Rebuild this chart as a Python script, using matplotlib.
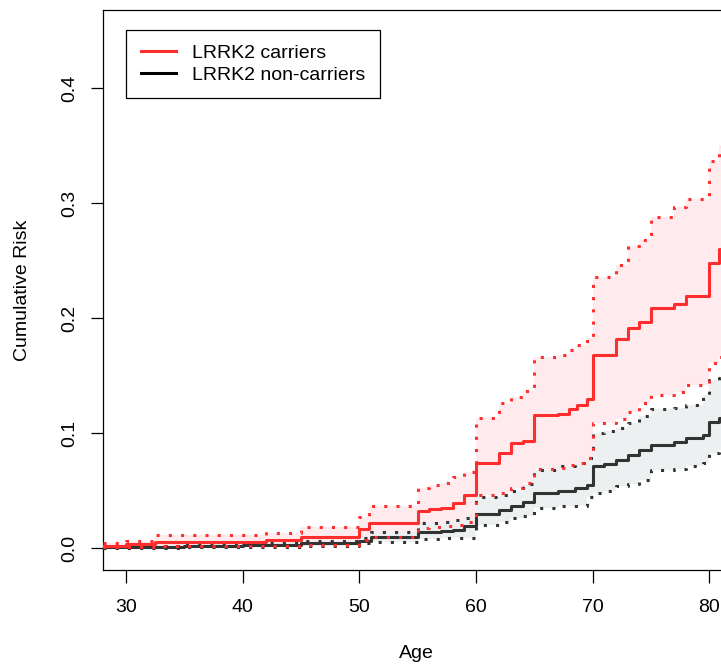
"""Cumulative risk of LRRK2 carriers vs non-carriers (step curves with CI bands)."""

import numpy as np
import matplotlib
matplotlib.use("Agg")
import matplotlib.pyplot as plt

plt.rcParams["font.family"] = ["Liberation Sans", "DejaVu Sans"]

# Carriers: event ages with estimate and confidence limits
carrier_age = [28, 30, 32.5, 42, 45, 50, 50.8, 55, 56, 57, 58, 59, 60, 62, 63, 64,
               65, 67, 68, 68.7, 69.5, 70, 72, 73, 74, 75, 77, 78, 80, 80.8, 81.2, 81.7]
carrier_est = [0.0017, 0.0035, 0.005, 0.007, 0.0096, 0.0165, 0.022, 0.032, 0.034, 0.035,
               0.039, 0.046, 0.074, 0.083, 0.091, 0.093, 0.116, 0.117, 0.121, 0.124,
               0.130, 0.168, 0.182, 0.191, 0.197, 0.209, 0.212, 0.219, 0.248, 0.260,
               0.262, 0.262]
carrier_hi = [0.004, 0.006, 0.011, 0.013, 0.018, 0.027, 0.037, 0.052, 0.055, 0.057,
              0.062, 0.066, 0.113, 0.126, 0.131, 0.137, 0.166, 0.168, 0.172, 0.177,
              0.183, 0.236, 0.246, 0.263, 0.268, 0.288, 0.297, 0.304, 0.337, 0.350,
              0.360, 0.360]
carrier_lo = [0.001, 0.001, 0.0015, 0.002, 0.003, 0.007, 0.010, 0.017, 0.018, 0.019,
              0.020, 0.023, 0.046, 0.048, 0.052, 0.057, 0.069, 0.070, 0.072, 0.074,
              0.078, 0.109, 0.112, 0.118, 0.126, 0.133, 0.136, 0.142, 0.161, 0.166,
              0.168, 0.168]

# Non-carriers
noncarrier_age = [28, 35, 40, 45, 50, 51, 55, 57, 58, 59, 60, 62, 63, 64, 65, 67, 68.5,
                  69.5, 70, 71, 72, 73, 74, 75, 77, 78, 79.5, 80, 80.8, 81.7]
noncarrier_est = [0.0008, 0.002, 0.003, 0.004, 0.006, 0.0096, 0.014, 0.015, 0.016, 0.019,
                  0.030, 0.033, 0.037, 0.040, 0.048, 0.050, 0.052, 0.055, 0.071, 0.073,
                  0.077, 0.081, 0.085, 0.090, 0.092, 0.096, 0.098, 0.110, 0.113, 0.113]
noncarrier_hi = [0.002, 0.004, 0.005, 0.006, 0.009, 0.014, 0.022, 0.023, 0.024, 0.026,
                 0.044, 0.046, 0.050, 0.056, 0.068, 0.071, 0.074, 0.078, 0.100, 0.102,
                 0.104, 0.109, 0.115, 0.121, 0.122, 0.124, 0.133, 0.146, 0.148, 0.148]
noncarrier_lo = [0.0, 0.0005, 0.001, 0.002, 0.004, 0.005, 0.008, 0.0085, 0.009, 0.009,
                 0.020, 0.023, 0.026, 0.028, 0.035, 0.037, 0.037, 0.044, 0.048, 0.050,
                 0.054, 0.056, 0.059, 0.068, 0.069, 0.071, 0.074, 0.083, 0.085, 0.085]

y_ticks = [0.0, 0.1, 0.2, 0.3, 0.4]
x_ticks = [30, 40, 50, 60, 70, 80]

RED = "#FF2E2E"
DARK = "#333333"
DOT = (0, (1, 3))
LW = 2.2

fig = plt.figure(figsize=(7.21, 6.64), dpi=100)
ax = fig.add_axes([103 / 721, 94 / 664, 626 / 721, 560 / 664])

# CI bands: carriers first, non-carriers painted over them
ax.fill_between(carrier_age, carrier_lo, carrier_hi, step="post",
                facecolor="#FFEAEE", edgecolor="none", zorder=1)
ax.fill_between(noncarrier_age, noncarrier_lo, noncarrier_hi, step="post",
                facecolor="#EDF0F0", edgecolor="none", zorder=2)

ax.step(noncarrier_age, noncarrier_lo, where="post", color=DARK, lw=LW, ls=DOT, zorder=3)
ax.step(noncarrier_age, noncarrier_hi, where="post", color=DARK, lw=LW, ls=DOT, zorder=3)
ax.step(noncarrier_age, noncarrier_est, where="post", color=DARK, lw=LW, zorder=4)

ax.step(carrier_age, carrier_lo, where="post", color=RED, lw=LW, ls=DOT, zorder=5)
ax.step(carrier_age, carrier_hi, where="post", color=RED, lw=LW, ls=DOT, zorder=5)
ax.step(carrier_age, carrier_est, where="post", color=RED, lw=LW, zorder=6)

ax.set_xlim(28.03, 81.7)
ax.set_ylim(-0.0191, 0.468)
ax.set_xticks(x_ticks)
ax.set_yticks(y_ticks)
ax.set_yticklabels([f"{v:.1f}" for v in y_ticks], rotation=90, va="center")

for side in ax.spines.values():
    side.set_linewidth(0.9)
    side.set_color("black")
ax.tick_params(direction="out", length=9, width=0.9, labelsize=14, colors="black")
ax.tick_params(axis="x", pad=12)
ax.tick_params(axis="y", pad=9)

ax.set_xlabel("Age", fontsize=14, va="center")
ax.xaxis.set_label_coords(0.5, -83 / 560)
ax.set_ylabel("Cumulative Risk", fontsize=14, va="center")
ax.yaxis.set_label_coords(-81 / 626, 0.5)

h1, = ax.plot([], [], color=RED, lw=LW)
h2, = ax.plot([], [], color="black", lw=LW)
leg = ax.legend([h1, h2], ["LRRK2 carriers", "LRRK2 non-carriers"],
                loc="upper left", bbox_to_anchor=(126 / 721, 1 - 30 / 664),
                bbox_transform=fig.transFigure, borderaxespad=0,
                fontsize=14, frameon=True, fancybox=False, framealpha=1,
                edgecolor="black", borderpad=0.75, handlelength=1.8,
                handletextpad=0.87, labelspacing=0.2)
leg.get_frame().set_linewidth(0.9)

fig.savefig("out.png", dpi=100)
